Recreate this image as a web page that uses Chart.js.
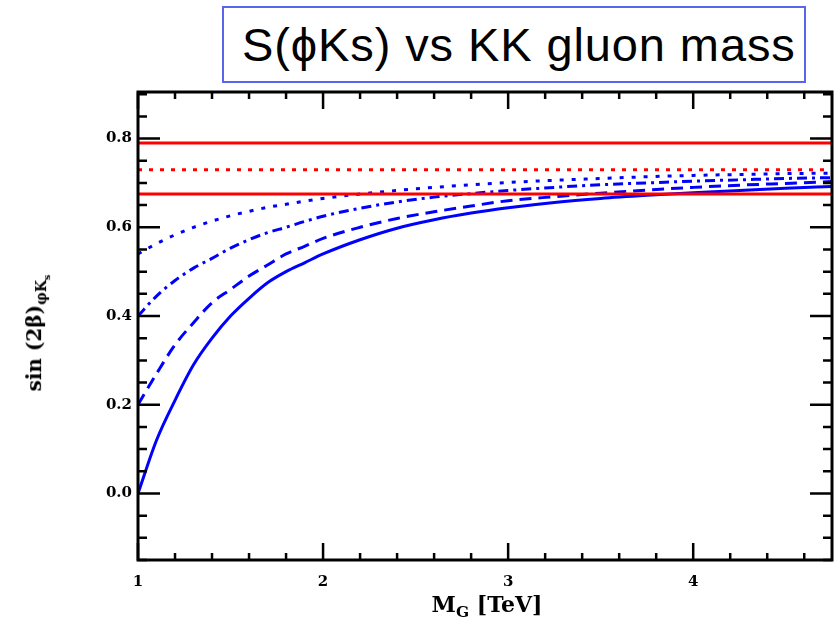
<!DOCTYPE html>
<html>
<head>
<meta charset="utf-8">
<script src="https://cdn.jsdelivr.net/npm/chart.js@4.4.1/dist/chart.umd.min.js"></script>
<style>
    html, body { margin: 0; padding: 0; background: #fff; }
    #wrap { position: relative; width: 840px; height: 624px; overflow: hidden; }
    #chart { position: absolute; left: 0; top: 0; }
    #title {
        position: absolute; left: 222px; top: 6px; width: 584px; height: 77px;
        box-sizing: border-box; border: 2px solid #5a64ec; background: #fff;
        font-family: 'Liberation Sans', Arial, sans-serif; font-size: 47px; letter-spacing: 0.9px;
        line-height: 74px; padding-left: 18px; color: #000; white-space: nowrap;
    }
    .axis-title {
        position: absolute; white-space: nowrap; color: #000;
        font-family: 'DejaVu Serif', serif; font-weight: bold;
    }
    #ytitle { left: 37px; top: 333px; font-size: 20px; transform: translate(-50%, -50%) rotate(-90deg); }
    #xtitle { left: 487px; top: 606px; font-size: 22px; transform: translate(-50%, -50%); }
    .axis-title sub { font-size: 0.7em; }
</style>
</head>
<body>
<div id="wrap">
    <canvas id="chart" width="840" height="624"></canvas>
    <div id="title">S(ϕKs) vs KK gluon mass</div>
    <div class="axis-title" id="ytitle">sin (2β)<sub>φK<sub>s</sub></sub></div>
    <div class="axis-title" id="xtitle">M<sub>G</sub> [TeV]</div>
</div>
<script>
// Data
const massTeV = [1.0, 1.1, 1.2, 1.3, 1.4, 1.5, 1.6, 1.7, 1.8, 1.9, 2.0, 2.2, 2.4, 2.6, 2.8, 3.0, 3.25, 3.5, 3.75, 4.0, 4.25, 4.5, 4.75];
const sSolid   = [0.00, 0.12, 0.21, 0.29, 0.35, 0.40, 0.44, 0.475, 0.50, 0.52, 0.54, 0.572, 0.598, 0.617, 0.632, 0.644, 0.656, 0.665, 0.672, 0.678, 0.683, 0.688, 0.692];
const sDashed  = [0.20, 0.27, 0.335, 0.385, 0.43, 0.46, 0.49, 0.515, 0.54, 0.557, 0.575, 0.60, 0.62, 0.635, 0.648, 0.66, 0.669, 0.677, 0.684, 0.69, 0.695, 0.699, 0.703];
const sDashDot = [0.40, 0.445, 0.48, 0.508, 0.53, 0.553, 0.572, 0.588, 0.60, 0.613, 0.625, 0.643, 0.657, 0.668, 0.676, 0.683, 0.69, 0.696, 0.70, 0.704, 0.707, 0.71, 0.712];
const sDotted  = [0.54, 0.563, 0.583, 0.60, 0.614, 0.626, 0.636, 0.645, 0.652, 0.659, 0.665, 0.675, 0.683, 0.69, 0.696, 0.701, 0.706, 0.71, 0.714, 0.717, 0.719, 0.721, 0.722];

// Measured band: upper, central, lower
const bandUpper = 0.79;
const bandCenter = 0.73;
const bandLower = 0.675;

const xTicks = [1, 2, 3, 4];
const xTickLabels = ['1', '2', '3', '4'];
const yTicks = [0.0, 0.2, 0.4, 0.6, 0.8];
const yTickLabels = ['0.0', '0.2', '0.4', '0.6', '0.8'];

const X_MIN = 1, X_MAX = 4.75;
const Y_MIN = -0.15, Y_MAX = 0.905;

function toPoints(ys) {
    return massTeV.map((m, i) => ({ x: m, y: ys[i] }));
}

function flatLine(v) {
    return [{ x: X_MIN, y: v }, { x: X_MAX, y: v }];
}

const BLUE = '#0000ff';
const RED = '#ff0000';

function curve(data, dash, color) {
    return {
        data: data,
        borderColor: color,
        borderWidth: 3,
        borderDash: dash,
        pointRadius: 0,
        fill: false,
        cubicInterpolationMode: 'monotone'
    };
}

// Inward ticks on all four sides plus the frame
const frameTicks = {
    id: 'frameTicks',
    afterDatasetsDraw(chart) {
        const { ctx, chartArea: a, scales } = chart;
        const sx = scales.x, sy = scales.y;
        ctx.save();
        ctx.strokeStyle = '#000';
        ctx.lineWidth = 2.5;

        // x ticks (minor every 0.2)
        for (let k = 0; ; k++) {
            const v = Math.round((X_MIN + k * 0.2) * 100) / 100;
            if (v > X_MAX + 1e-6) break;
            const major = Math.abs(v - Math.round(v)) < 1e-6;
            const len = major ? 17 : 7;
            const px = sx.getPixelForValue(v);
            ctx.beginPath();
            ctx.moveTo(px, a.bottom); ctx.lineTo(px, a.bottom - len);
            ctx.moveTo(px, a.top); ctx.lineTo(px, a.top + len);
            ctx.stroke();
        }
        // y ticks (minor every 0.05)
        for (let k = 0; ; k++) {
            const v = Math.round((-0.15 + k * 0.05) * 100) / 100;
            if (v > Y_MAX + 1e-6) break;
            const major = Math.abs(v / 0.2 - Math.round(v / 0.2)) < 1e-6;
            const len = major ? 22 : 9;
            const py = sy.getPixelForValue(v);
            ctx.beginPath();
            ctx.moveTo(a.left, py); ctx.lineTo(a.left + len, py);
            ctx.moveTo(a.right, py); ctx.lineTo(a.right - len, py);
            ctx.stroke();
        }
        ctx.lineWidth = 3;
        ctx.strokeRect(a.left, a.top, a.right - a.left, a.bottom - a.top);
        ctx.restore();
    }
};

const tickFont = { family: "'DejaVu Serif', serif", weight: 'bold', size: 15 };

new Chart(document.getElementById('chart'), {
    type: 'line',
    data: {
        datasets: [
            curve(flatLine(bandUpper), [], RED),
            curve(flatLine(bandCenter), [4, 7], RED),
            curve(flatLine(bandLower), [], RED),
            curve(toPoints(sDotted), [4, 8], BLUE),
            curve(toPoints(sDashDot), [10, 5, 3, 5], BLUE),
            curve(toPoints(sDashed), [12, 7], BLUE),
            curve(toPoints(sSolid), [], BLUE)
        ]
    },
    options: {
        responsive: false,
        animation: false,
        layout: { padding: { top: 92, right: 8, left: 0, bottom: 0 } },
        plugins: { legend: { display: false }, tooltip: { enabled: false } },
        scales: {
            x: {
                type: 'linear',
                min: X_MIN,
                max: X_MAX,
                grid: { display: false, drawTicks: false, tickLength: 0 },
                border: { display: false },
                afterBuildTicks: s => { s.ticks = xTicks.map(v => ({ value: v })); },
                afterFit: s => { s.height = 64; },
                ticks: {
                    callback: (v, i) => xTickLabels[i],
                    font: tickFont, color: '#000', padding: 13,
                    maxRotation: 0, autoSkip: false
                }
            },
            y: {
                type: 'linear',
                min: Y_MIN,
                max: Y_MAX,
                grid: { display: false, drawTicks: false, tickLength: 0 },
                border: { display: false },
                afterBuildTicks: s => { s.ticks = yTicks.map(v => ({ value: v })); },
                afterFit: s => { s.width = 138; },
                ticks: {
                    callback: (v, i) => yTickLabels[i],
                    font: tickFont, color: '#000', padding: 6, autoSkip: false
                }
            }
        }
    },
    plugins: [frameTicks]
});
</script>
</body>
</html>
